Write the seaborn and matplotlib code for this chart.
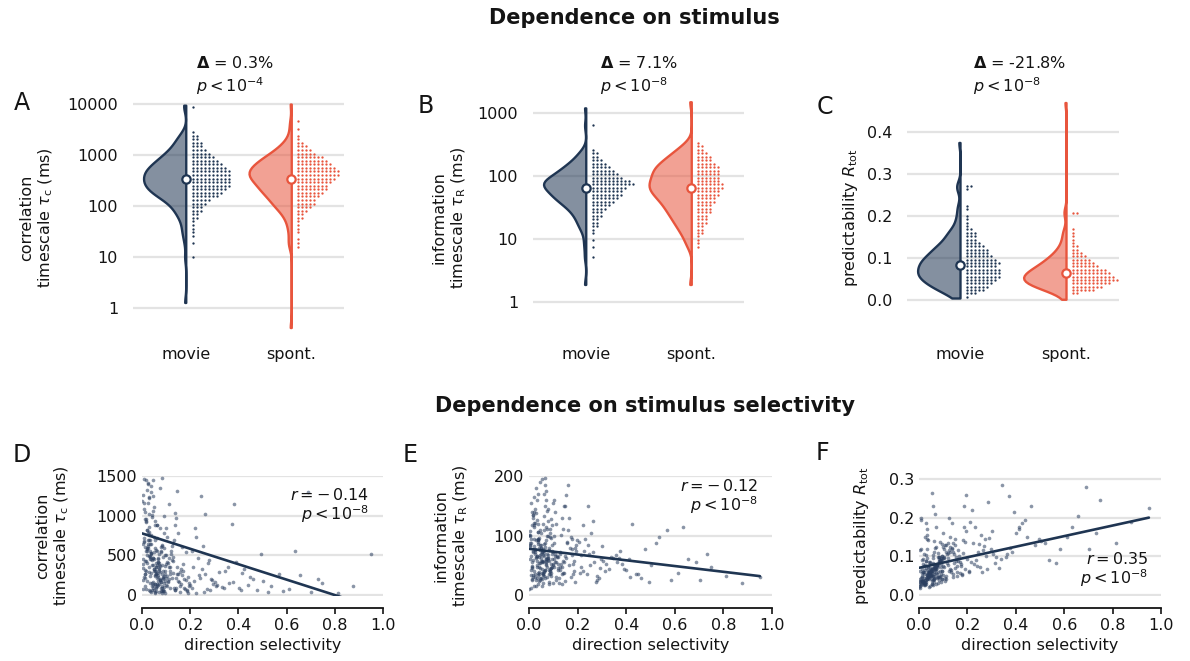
import numpy as np
import pandas as pd
import matplotlib
matplotlib.use("Agg")
import matplotlib.pyplot as plt
import matplotlib.colors as mcolors
from matplotlib.ticker import FixedLocator, FixedFormatter, NullLocator
import seaborn as sns

sns.set_theme(style="white")
plt.rcParams["font.family"] = ["DejaVu Sans"]
plt.rcParams["mathtext.fontset"] = "dejavusans"
for k in ["text.color", "axes.labelcolor", "xtick.color", "ytick.color"]:
    plt.rcParams[k] = "0.08"

# ---------------- data ----------------
CONDITIONS = ["movie", "spont."]

# Panel A: correlation timescale (ms); dot rows on a log grid (log10 start, step)
A_GRID = (1.0, 0.07)
A_movie_counts = [1, 0, 0, 0, 1, 0, 1, 1, 1, 1, 1, 2, 2, 3, 3, 4, 5, 7, 8, 9, 10, 10, 10,
                  10, 10, 9, 8, 7, 6, 5, 4, 3, 3, 2, 2, 1, 0, 0, 0, 0, 0, 0, 1]
A_spont_counts = [0, 0, 0, 1, 1, 1, 0, 1, 1, 1, 1, 2, 2, 3, 4, 5, 5, 6, 7, 8, 8, 9, 10,
                  11, 11, 10, 9, 8, 7, 5, 4, 3, 2, 1, 1, 0, 1, 0, 1]
A_movie_tail = [1.3, 9500]
A_spont_tail = [0.42, 10000]

# Panel B: information timescale (ms)
B_GRID = (0.6, 0.055)
B_movie_counts = [0, 0, 1, 0, 0, 1, 0, 1, 0, 1, 1, 2, 2, 2, 3, 3, 4, 5, 6, 7, 8, 8, 9, 11,
                  10, 8, 7, 6, 5, 4, 3, 2, 2, 1, 0, 0, 0, 0, 0, 0, 1]
B_spont_counts = [0, 0, 0, 0, 0, 1, 1, 1, 1, 2, 2, 2, 3, 3, 3, 4, 4, 4, 5, 5, 6, 6, 7, 7,
                  6, 6, 6, 6, 6, 5, 4, 4, 3, 2, 2, 1]
B_movie_tail = [1.9, 1200]
B_spont_tail = [1.9, 1500]

# Panel C: predictability R_tot (linear grid: start, step)
C_GRID = (0.0, 0.008)
C_movie_counts = [0, 1, 3, 5, 6, 7, 8, 9, 9, 9, 8, 9, 8, 7, 6, 6, 5, 4, 3, 3, 3, 2, 1, 1,
                  1, 1, 0, 1, 1, 0, 0, 0, 0, 1, 2]
C_spont_counts = [0, 0, 2, 6, 8, 10, 12, 11, 10, 9, 7, 6, 5, 4, 3, 2, 2, 1, 1, 1, 1, 1,
                  0, 0, 0, 0, 2]
C_movie_tail = [0.005, 0.375]
C_spont_tail = [0.002, 0.47]

# Panels D-F: per-neuron direction selectivity and measures
DS = [0.012, 0.045, 0.078, 0.031, 0.066, 0.005, 0.091, 0.054, 0.023, 0.083,
      0.038, 0.071, 0.017, 0.059, 0.096, 0.027, 0.049, 0.008, 0.086, 0.062,
      0.041, 0.003, 0.074, 0.035, 0.093, 0.019, 0.057, 0.081, 0.014, 0.068,
      0.052, 0.028, 0.088, 0.010, 0.064, 0.043, 0.076, 0.021, 0.099, 0.036,
      0.015, 0.061, 0.047, 0.084, 0.002, 0.072, 0.033, 0.056, 0.025, 0.094,
      0.069, 0.039, 0.011, 0.080, 0.051, 0.029, 0.087, 0.044, 0.006, 0.063,
      0.024, 0.077, 0.058, 0.016, 0.092, 0.034, 0.070, 0.048, 0.001, 0.085,
      0.060, 0.020, 0.097, 0.042, 0.013, 0.075, 0.032, 0.089, 0.053, 0.026,
      0.046, 0.082, 0.009, 0.067, 0.037, 0.095, 0.018, 0.055, 0.073, 0.030,
      0.004, 0.050, 0.079, 0.022, 0.065, 0.040, 0.090, 0.014, 0.058, 0.035,
      0.070, 0.027, 0.044, 0.098, 0.007, 0.061, 0.083, 0.019, 0.052, 0.038,
      0.105, 0.142, 0.178, 0.121, 0.163, 0.112, 0.195, 0.134, 0.151, 0.187,
      0.118, 0.156, 0.101, 0.172, 0.139, 0.127, 0.191, 0.146, 0.108, 0.168,
      0.133, 0.182, 0.115, 0.159, 0.103, 0.175, 0.124, 0.198, 0.141, 0.110,
      0.165, 0.129, 0.186, 0.107, 0.153, 0.137, 0.171, 0.119, 0.193, 0.148,
      0.113, 0.160, 0.144, 0.189, 0.126, 0.102, 0.176, 0.135, 0.157, 0.183,
      0.215, 0.248, 0.281, 0.232, 0.305, 0.262, 0.221, 0.339, 0.274, 0.241,
      0.296, 0.208, 0.257, 0.318, 0.226, 0.287, 0.244, 0.331, 0.212, 0.268,
      0.237, 0.302, 0.253, 0.224, 0.345, 0.278, 0.206, 0.291, 0.263, 0.313,
      0.362, 0.415, 0.478, 0.391, 0.536, 0.447, 0.372, 0.584, 0.425, 0.503,
      0.401, 0.358, 0.462, 0.521, 0.383, 0.439, 0.567, 0.412, 0.494, 0.376,
      0.612, 0.655, 0.703, 0.748, 0.634, 0.812, 0.689, 0.876, 0.731, 0.950,
      0.032, 0.071, 0.015, 0.056, 0.094, 0.041, 0.008, 0.066, 0.027, 0.118,
      0.049, 0.021, 0.083, 0.037, 0.062, 0.012, 0.101, 0.054, 0.029, 0.077,
      0.018, 0.064, 0.043, 0.130, 0.025, 0.087, 0.051, 0.006, 0.072, 0.039,
      0.092, 0.034, 0.057, 0.016, 0.079, 0.046, 0.124, 0.023, 0.068, 0.011,
      0.060, 0.140, 0.028, 0.074, 0.044, 0.097, 0.019, 0.053, 0.035, 0.085,
      0.026, 0.048, 0.112, 0.063, 0.009, 0.081, 0.038, 0.147, 0.057, 0.022,
      0.075, 0.013, 0.040, 0.093, 0.031, 0.066, 0.107, 0.047, 0.004, 0.058,
      0.036, 0.089, 0.055, 0.020, 0.136, 0.070, 0.042, 0.010, 0.099, 0.062,
      0.128, 0.045, 0.017, 0.080, 0.052, 0.030, 0.115, 0.067, 0.024, 0.088,
      0.003, 0.059, 0.104, 0.039, 0.073, 0.150, 0.014, 0.050, 0.091, 0.033]

TAU_C = [320, 85, 610, 1240, 450, 190, 780, 40, 1420, 270,
         530, 140, 960, 360, 25, 700, 1110, 230, 480, 880,
         65, 390, 1350, 150, 590, 820, 300, 1480, 110, 420,
         250, 1030, 55, 670, 380, 1590, 200, 510, 130, 760,
         920, 280, 470, 90, 1190, 340, 560, 20, 650, 175,
         410, 1300, 215, 540, 70, 860, 300, 1060, 450, 120,
         620, 160, 350, 1450, 240, 490, 35, 730, 1780, 380,
         100, 560, 270, 990, 430, 195, 640, 60, 310, 1160,
         470, 45, 720, 230, 1380, 365, 560, 145, 850, 290,
         1260, 330, 95, 600, 180, 440, 1000, 260, 50, 690,
         375, 800, 125, 505, 1470, 215, 30, 580, 940, 285,
         420, 210, 80, 560, 330, 1150, 150, 690, 260, 45,
         300, 120, 850, 390, 60, 480, 230, 1320, 175, 610,
         95, 540, 270, 35, 740, 200, 440, 130, 980, 355,
         250, 660, 70, 410, 165, 1040, 310, 520, 110, 780,
         470, 140, 360, 25, 620, 240, 90, 890, 295, 185,
         180, 330, 60, 470, 120, 260, 850, 90, 400, 220,
         140, 560, 40, 290, 730, 200, 1250, 105, 350, 75,
         250, 160, 620, 30, 310, 440, 95, 190, 1020, 130,
         150, 280, 60, 420, 110, 230, 900, 45, 330, 180,
         90, 360, 200, 40, 1150, 130, 260, 70, 520, 170,
         80, 250, 40, 150, 560, 30, 1300, 110, 200, 520,
         240, 520, 80, 690, 310, 150, 1090, 420, 60, 350,
         460, 180, 620, 35, 880, 270, 390, 140, 1230, 560,
         300, 720, 110, 430, 1400, 200, 540, 75, 330, 650,
         150, 480, 260, 940, 55, 380, 210, 600, 130, 1050,
         410, 90, 760, 290, 170, 510, 1330, 240, 45, 630,
         700, 330, 200, 560, 1160, 120, 450, 270, 85, 820,
         190, 610, 380, 100, 490, 250, 160, 1460, 340, 570,
         530, 230, 880, 400, 70, 310, 1010, 680, 220, 140,
         280, 1250, 430, 170, 600, 350, 95, 470, 790, 210,
         640, 260, 115, 520, 370, 180, 960, 300, 50, 450]

TAU_R = [45, 110, 62, 28, 150, 85, 38, 195, 70, 18,
         95, 52, 130, 33, 74, 240, 58, 12, 105, 66,
         24, 88, 47, 170, 60, 115, 35, 80, 140, 55,
         72, 15, 98, 43, 185, 64, 30, 122, 50, 90,
         135, 40, 68, 22, 102, 57, 160, 77, 36, 118,
         50, 92, 27, 145, 63, 210, 41, 84, 108, 32,
         76, 125, 20, 59, 96, 48, 175, 69, 10, 112,
         39, 82, 155, 54, 26, 100, 65, 128, 44, 73,
         190, 58, 34, 87, 120, 48, 75, 16, 142, 62,
         99, 29, 67, 165, 42, 80, 53, 228, 37, 106,
         61, 138, 46, 21, 94, 71, 35, 118, 56, 86,
         66, 38, 95, 52, 130, 25, 74, 47, 168, 58,
         43, 88, 60, 31, 112, 70, 22, 150, 55, 80,
         102, 35, 64, 185, 48, 77, 28, 93, 57, 120,
         50, 72, 40, 140, 62, 18, 98, 45, 84, 66,
         30, 110, 56, 79, 42, 160, 68, 36, 90, 52,
         48, 70, 32, 95, 58, 125, 40, 64, 22, 85,
         60, 38, 105, 52, 75, 28, 150, 44, 68, 55,
         35, 82, 50, 118, 62, 26, 90, 46, 72, 40,
         55, 30, 78, 44, 98, 36, 62, 25, 120, 50,
         42, 68, 28, 88, 52, 35, 110, 60, 22, 75,
         38, 60, 25, 48, 115, 32, 55, 20, 70, 30,
         58, 92, 33, 120, 70, 47, 155, 81, 26, 64,
         104, 41, 76, 19, 133, 56, 88, 37, 180, 62,
         72, 28, 96, 52, 145, 40, 84, 60, 115, 34,
         45, 126, 68, 30, 99, 54, 21, 78, 160, 49,
         86, 38, 64, 112, 25, 73, 140, 57, 92, 44,
         31, 80, 55, 170, 66, 42, 107, 24, 75, 95,
         62, 118, 36, 85, 50, 198, 70, 29, 101, 57,
         94, 46, 72, 15, 130, 61, 39, 88, 53, 110,
         48, 76, 135, 59, 27, 92, 66, 43, 122, 35,
         83, 55, 100, 38, 69, 150, 47, 79, 32, 65]

R_TOT = [0.045, 0.082, 0.031, 0.118, 0.064, 0.022, 0.095, 0.052, 0.150, 0.038,
         0.071, 0.027, 0.058, 0.104, 0.042, 0.185, 0.066, 0.035, 0.089, 0.048,
         0.060, 0.018, 0.077, 0.040, 0.132, 0.055, 0.025, 0.098, 0.068, 0.210,
         0.036, 0.087, 0.050, 0.028, 0.110, 0.063, 0.044, 0.075, 0.160, 0.057,
         0.092, 0.034, 0.069, 0.047, 0.020, 0.125, 0.053, 0.080, 0.039, 0.101,
         0.056, 0.142, 0.030, 0.073, 0.049, 0.088, 0.062, 0.024, 0.115, 0.041,
         0.078, 0.046, 0.230, 0.059, 0.033, 0.096, 0.067, 0.051, 0.027, 0.137,
         0.043, 0.106, 0.061, 0.085, 0.037, 0.054, 0.170, 0.072, 0.029, 0.065,
         0.050, 0.094, 0.026, 0.121, 0.058, 0.040, 0.080, 0.265, 0.047, 0.070,
         0.035, 0.062, 0.108, 0.044, 0.076, 0.021, 0.055, 0.090, 0.038, 0.146,
         0.068, 0.032, 0.084, 0.052, 0.195, 0.041, 0.099, 0.060, 0.028, 0.074,
         0.072, 0.110, 0.052, 0.135, 0.088, 0.041, 0.165, 0.064, 0.098, 0.230,
         0.095, 0.058, 0.125, 0.079, 0.046, 0.150, 0.068, 0.105, 0.035, 0.086,
         0.060, 0.142, 0.083, 0.050, 0.118, 0.074, 0.200, 0.092, 0.055, 0.130,
         0.101, 0.066, 0.175, 0.044, 0.089, 0.122, 0.057, 0.078, 0.260, 0.070,
         0.048, 0.115, 0.082, 0.138, 0.062, 0.095, 0.053, 0.185, 0.076, 0.108,
         0.085, 0.132, 0.068, 0.175, 0.105, 0.058, 0.220, 0.092, 0.145, 0.075,
         0.118, 0.062, 0.155, 0.098, 0.080, 0.240, 0.110, 0.070, 0.190, 0.126,
         0.090, 0.165, 0.072, 0.135, 0.285, 0.100, 0.060, 0.148, 0.115, 0.082,
         0.105, 0.170, 0.128, 0.215, 0.090, 0.150, 0.255, 0.118, 0.185, 0.140,
         0.160, 0.098, 0.230, 0.135, 0.112, 0.195, 0.082, 0.175, 0.145, 0.122,
         0.150, 0.205, 0.120, 0.245, 0.175, 0.135, 0.280, 0.190, 0.160, 0.225,
         0.052, 0.078, 0.036, 0.095, 0.061, 0.044, 0.120, 0.070, 0.029, 0.108,
         0.065, 0.031, 0.088, 0.047, 0.140, 0.056, 0.074, 0.040, 0.102, 0.059,
         0.039, 0.070, 0.055, 0.125, 0.027, 0.084, 0.049, 0.063, 0.175, 0.046,
         0.081, 0.042, 0.066, 0.033, 0.097, 0.058, 0.115, 0.025, 0.072, 0.050,
         0.060, 0.135, 0.038, 0.079, 0.053, 0.092, 0.030, 0.068, 0.155, 0.045,
         0.034, 0.057, 0.110, 0.071, 0.043, 0.086, 0.064, 0.145, 0.048, 0.026,
         0.076, 0.037, 0.054, 0.100, 0.045, 0.067, 0.128, 0.058, 0.032, 0.083,
         0.049, 0.091, 0.063, 0.028, 0.118, 0.075, 0.041, 0.200, 0.096, 0.055,
         0.112, 0.051, 0.035, 0.080, 0.062, 0.044, 0.105, 0.073, 0.030, 0.090,
         0.041, 0.069, 0.099, 0.047, 0.078, 0.130, 0.036, 0.058, 0.087, 0.052]

# linear fits (intercept, slope) and statistics
FIT_D = (780, -975)
FIT_E = (78, -48.5)
FIT_F = (0.070, 0.137)
STATS_TOP = [("0.3%", "-4"), ("7.1%", "-8"), ("-21.8%", "-8")]
STATS_BOTTOM = [("-\\,0.14", "-8"), ("-\\,0.12", "-8"), ("0.35", "-8")]

# ---------------- style ----------------
MOVIE = "#1f3552"
SPONT = "#e8553d"
NAVY = "#2b3f60"
GRID = "#e3e3e3"
FS = 11.5
W, H = 1190, 661
VW = 0.4  # half-violin width (data units)

fig = plt.figure(figsize=(W / 100, H / 100), dpi=100)


def px_axes(l, t, r, b):
    return fig.add_axes([l / W, 1 - b / H, (r - l) / W, (b - t) / H])


def rows_from(grid, counts, log):
    start, step = grid
    pos = start + step * np.arange(len(counts))
    return 10 ** pos if log else pos


def top_panel(ax, grid, groups, log):
    for idx, (counts, tail, color) in enumerate(groups):
        rows = rows_from(grid, counts, log)
        sample = np.repeat(rows, counts)
        vals = np.concatenate([sample, tail])
        # a split (half) violin is drawn across [pos - w/2, pos + w/2] with its flat side at pos + w/2
        df = pd.DataFrame({"position": idx - VW / 2, "value": vals})
        n0 = len(ax.collections)
        sns.violinplot(data=df, x="position", y="value", native_scale=True,
                       split=True, inner=None, cut=0, density_norm="width",
                       bw_adjust=0.62, width=VW, log_scale=(False, log), color=color,
                       linecolor=color, linewidth=1.7, saturation=1, ax=ax)
        for coll in ax.collections[n0:]:
            coll.set_facecolor(mcolors.to_rgba(color, 0.55))
            coll.set_edgecolor(color)
        xs, ys = [], []
        for r, c in zip(rows, counts):
            for m in range(c):
                xs.append(idx + 0.065 + 0.038 * m)
                ys.append(r)
        ax.scatter(xs, ys, s=2.8, color=color, linewidths=0, zorder=3)
        ax.scatter([idx], [np.median(sample)], s=36, facecolor="white",
                   edgecolor=color, linewidths=1.6, zorder=6)
    ax.set_xlabel("")
    ax.set_xlim(-0.5, 1.5)
    ax.xaxis.set_major_locator(FixedLocator([0, 1]))
    ax.xaxis.set_major_formatter(FixedFormatter(CONDITIONS))
    ax.xaxis.set_minor_locator(NullLocator())
    sns.despine(ax=ax, left=True, bottom=True)
    ax.yaxis.grid(True, color=GRID, lw=1.6)
    ax.xaxis.grid(False)
    ax.set_axisbelow(True)
    ax.tick_params(axis="y", length=0, pad=10.8, labelsize=FS)
    ax.tick_params(axis="x", length=0, pad=8.6, labelsize=FS)


# ---- top row ----
axA = px_axes(133, 100, 344, 335)
top_panel(axA, A_GRID, [(A_movie_counts, A_movie_tail, MOVIE),
                        (A_spont_counts, A_spont_tail, SPONT)], True)
axA.set_ylim(0.3, 12000)
axA.yaxis.set_major_locator(FixedLocator([1, 10, 100, 1000, 10000]))
axA.yaxis.set_major_formatter(FixedFormatter(["1", "10", "100", "1000", "10000"]))
axA.yaxis.set_minor_locator(NullLocator())
axA.set_ylabel("correlation\ntimescale $\\tau_\\mathrm{c}$ (ms)", fontsize=FS)
axA.yaxis.set_label_coords(-0.37, 0.5)

axB = px_axes(533, 100, 744, 335)
top_panel(axB, B_GRID, [(B_movie_counts, B_movie_tail, MOVIE),
                        (B_spont_counts, B_spont_tail, SPONT)], True)
axB.set_ylim(0.3, 1600)
axB.yaxis.set_major_locator(FixedLocator([1, 10, 100, 1000]))
axB.yaxis.set_major_formatter(FixedFormatter(["1", "10", "100", "1000"]))
axB.yaxis.set_minor_locator(NullLocator())
axB.set_ylabel("information\ntimescale $\\tau_\\mathrm{R}$ (ms)", fontsize=FS)
axB.yaxis.set_label_coords(-0.31, 0.5)

axC = px_axes(907, 100, 1119, 335)
top_panel(axC, C_GRID, [(C_movie_counts, C_movie_tail, MOVIE),
                        (C_spont_counts, C_spont_tail, SPONT)], False)
axC.set_ylim(-0.083, 0.476)
axC.yaxis.set_major_locator(FixedLocator([0.0, 0.1, 0.2, 0.3, 0.4]))
axC.yaxis.set_major_formatter(FixedFormatter(["0.0", "0.1", "0.2", "0.3", "0.4"]))
axC.set_ylabel("predictability $R_\\mathrm{tot}$", fontsize=FS)
axC.yaxis.set_label_coords(-0.22, 0.5)


# ---- bottom row ----
def bottom_panel(ax, y, ylim, ticks, labels, fit):
    n = min(len(DS), len(y))
    sns.scatterplot(x=DS[:n], y=y[:n], s=7, color=NAVY, alpha=0.55, linewidth=0, ax=ax)
    xx = np.array([min(DS), max(DS)])
    ax.plot(xx, fit[0] + fit[1] * xx, color=MOVIE, lw=1.9, zorder=4)
    ax.set_xlim(0, 1)
    ax.set_ylim(*ylim)
    ax.yaxis.set_major_locator(FixedLocator(ticks))
    ax.yaxis.set_major_formatter(FixedFormatter(labels))
    ax.xaxis.set_major_locator(FixedLocator([0, 0.2, 0.4, 0.6, 0.8, 1.0]))
    ax.xaxis.set_major_formatter(FixedFormatter(["0.0", "0.2", "0.4", "0.6", "0.8", "1.0"]))
    sns.despine(ax=ax, left=True)
    ax.spines["bottom"].set_position(("outward", 8.6))
    ax.spines["bottom"].set_color("0.08")
    ax.spines["bottom"].set_linewidth(1.3)
    ax.yaxis.grid(True, color=GRID, lw=1.6)
    ax.xaxis.grid(False)
    ax.set_axisbelow(True)
    ax.tick_params(axis="y", length=0, pad=3.6, labelsize=FS)
    ax.tick_params(axis="x", length=4, width=1.2, pad=3, labelsize=FS, bottom=True)
    ax.set_xlabel("direction selectivity", fontsize=FS)


axD = px_axes(142, 476, 383, 596)
bottom_panel(axD, TAU_C, (-12, 1505), [0, 500, 1000, 1500], ["0", "500", "1000", "1500"], FIT_D)
axD.set_ylabel("correlation\ntimescale $\\tau_\\mathrm{c}$ (ms)", fontsize=FS)
axD.yaxis.set_label_coords(-0.295, 0.5)

axE = px_axes(529, 476, 772, 596)
bottom_panel(axE, TAU_R, (-1.6, 200.7), [0, 100, 200], ["0", "100", "200"], FIT_E)
axE.set_ylabel("information\ntimescale $\\tau_\\mathrm{R}$ (ms)", fontsize=FS)
axE.yaxis.set_label_coords(-0.243, 0.5)

axF = px_axes(919, 476, 1161, 596)
bottom_panel(axF, R_TOT, (-0.003, 0.308), [0.0, 0.1, 0.2, 0.3], ["0.0", "0.1", "0.2", "0.3"], FIT_F)
axF.set_ylabel("predictability $R_\\mathrm{tot}$", fontsize=FS)
axF.yaxis.set_label_coords(-0.2, 0.5)


# ---- texts ----
def ftext(x, y, s, **kw):
    fig.text(x / W, 1 - y / H, s, **kw)


ftext(634, 18, "Dependence on stimulus", ha="center", va="center", fontsize=15, fontweight="bold")
ftext(645, 406, "Dependence on stimulus selectivity", ha="center", va="center",
      fontsize=15, fontweight="bold")

for (lx, ly, letter) in [(22, 103, "A"), (426, 106, "B"), (825, 107, "C"),
                         (22, 455, "D"), (410, 455, "E"), (822, 453, "F")]:
    ftext(lx, ly, letter, ha="center", va="center", fontsize=17)

for (x0, (delta, pexp)) in zip([196, 600, 973], STATS_TOP):
    ftext(x0, 76, "$\\mathbf{\\Delta}$ = " + delta + "\n$p < 10^{" + pexp + "}$",
          ha="left", va="center", fontsize=FS, linespacing=1.25)

for (x1, yc, (r, pexp)) in zip([369, 758, 1148], [506, 497, 570], STATS_BOTTOM):
    ftext(x1, yc, "$r = " + r + "$\n$p < 10^{" + pexp + "}$", ha="right", va="center",
          fontsize=FS, linespacing=1.0, multialignment="right")

fig.savefig("out.png", dpi=100)
